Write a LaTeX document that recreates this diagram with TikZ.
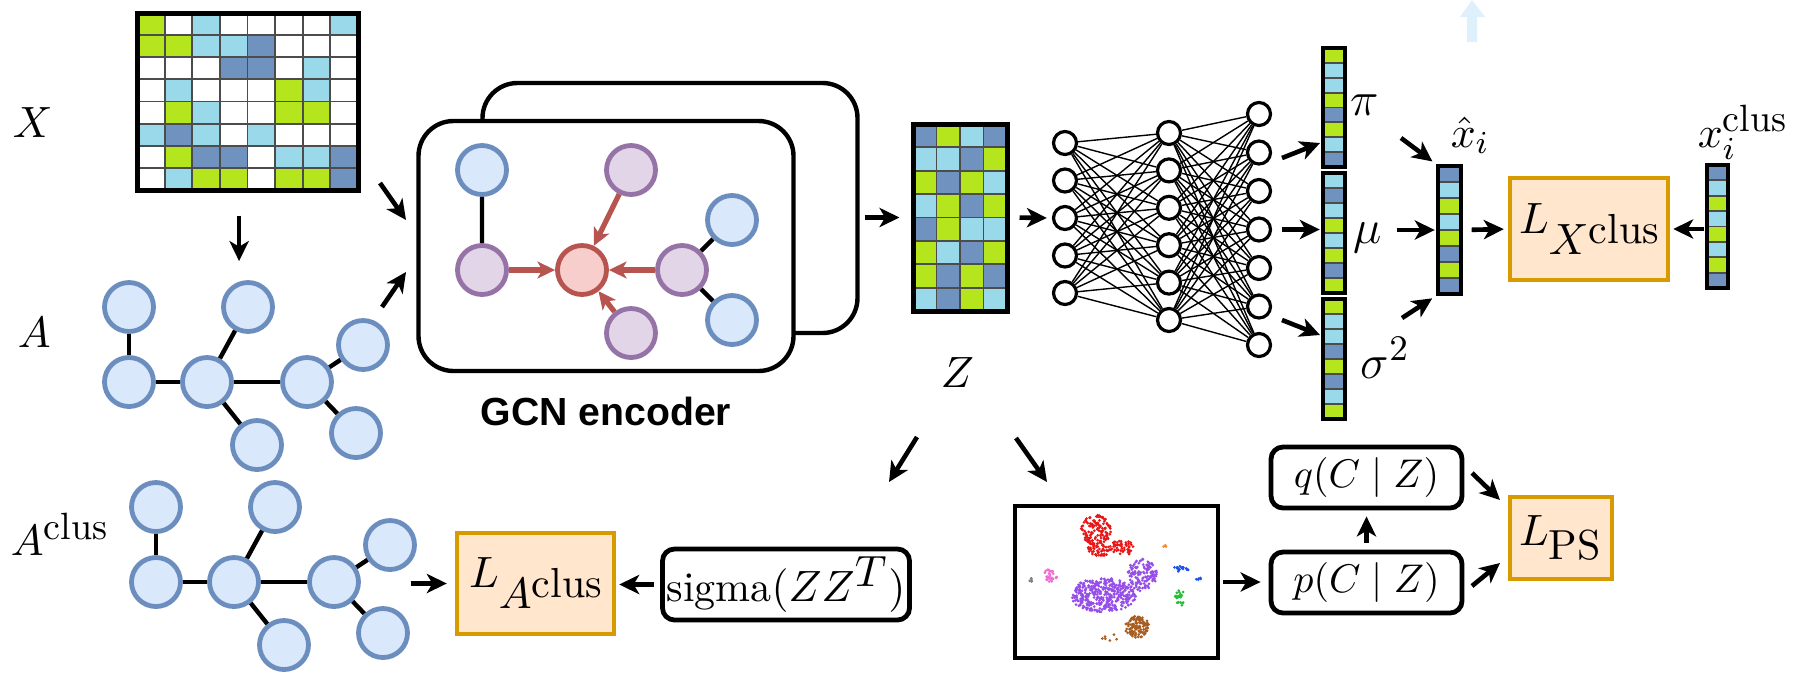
\documentclass[tikz,border=0pt]{standalone}
\usepackage{fontspec}
\newfontfamily\gcnfont{Liberation Sans}
\usetikzlibrary{arrows.meta,positioning,calc}

\definecolor{G}{RGB}{181,230,29}
\definecolor{C}{RGB}{153,217,234}
\definecolor{B}{RGB}{112,146,190}
\colorlet{W}{white}
\definecolor{nodeblue}{HTML}{DAE8FC}
\definecolor{edgeblue}{HTML}{6C8EBF}
\definecolor{nodepurple}{HTML}{E1D5E7}
\definecolor{edgepurple}{HTML}{9673A6}
\definecolor{nodered}{HTML}{F8CECC}
\definecolor{edgered}{HTML}{B85450}
\definecolor{lossfill}{HTML}{FFE6CC}
\definecolor{lossdraw}{HTML}{D79B00}
\definecolor{faint}{RGB}{222,240,252}
\definecolor{tsR}{RGB}{232,22,22}
\definecolor{tsP}{RGB}{150,78,232}
\definecolor{tsB}{RGB}{168,92,30}
\definecolor{tsK}{RGB}{240,110,210}
\definecolor{tsG}{RGB}{40,190,60}
\definecolor{tsU}{RGB}{30,80,235}
\definecolor{tsO}{RGB}{250,140,40}

\newcommand{\drawcells}[5]{%
	\foreach \row [count=\j] in {#5}{%
		\foreach \col [count=\i] in \row{%
			\filldraw[fill=\col,draw=black!70,line width=0.45pt]
				({#1+(\i-1)*#3},{#2+(\j-1)*#4}) rectangle ++(#3,#4);}}}
\newcommand{\lossL}[1]{$L$\raisebox{-5.25pt}{$#1$\raisebox{2.75pt}{clus}}}
\newcommand{\clustxt}{\mbox{\fontsize{9.5}{10}\selectfont clus}}

\tikzset{
	arr/.style={-{Stealth[length=5pt,width=4.8pt,inset=1.4pt]},line width=1.15pt},
	redarr/.style={-{Stealth[length=4.4pt,width=4.2pt,inset=1.2pt]},line width=1.3pt,draw=edgered},
	gnode/.style={circle,draw=edgeblue,fill=nodeblue,line width=1.2pt,minimum size=12.25pt,inner sep=0pt},
	gpurple/.style={gnode,draw=edgepurple,fill=nodepurple},
	gcentre/.style={gnode,draw=edgered,fill=nodered},
	gedge/.style={line width=1.1pt},
	neuron/.style={circle,draw,fill=white,line width=0.8pt,minimum size=5.75pt,inner sep=0pt},
	wire/.style={line width=0.35pt},
	cellframe/.style={draw,line width=1.25pt,inner sep=0pt},
	vec/.style={draw,line width=0.8pt,inner sep=0pt},
	loss/.style={draw=lossdraw,fill=lossfill,line width=1.1pt,inner sep=1pt,font=\fontsize{10.5}{12}\selectfont},
	term/.style={draw,rounded corners=3pt,line width=1.2pt,inner sep=1pt},
	lbl/.style={inner sep=0pt,font=\fontsize{11}{13}\selectfont},
	glbl/.style={inner sep=0pt,font=\fontsize{12.5}{14}\selectfont},
	layer/.style={draw,fill=white,rounded corners=8.75pt,line width=1.1pt,minimum width=93.75pt,minimum height=62.5pt}
}

\begin{document}
\begin{tikzpicture}[x=0.25pt,y=-0.25pt]
	\useasboundingbox (0,0) rectangle (1797,677);
	\fill[faint] (1467,42) -- (1467,17) -- (1460,17) -- (1472,0) -- (1485,17) -- (1477,17) -- (1477,42) -- cycle;

	% X and A
	\drawcells{137}{13}{27.625}{22.125}{{G,W,C,W,W,W,W,C},{G,G,C,C,B,W,W,W},{W,W,W,B,B,W,C,W},{W,C,W,W,W,G,C,W},{W,G,C,W,W,G,G,W},{C,B,C,W,C,W,W,W},{W,G,B,B,W,C,C,B},{W,C,G,G,W,G,G,B}}
	\node[cellframe,minimum width=55.25pt,minimum height=44.25pt] (Xm) at (247.5,101.5) {};
	\node[lbl,anchor=base west] (lX) at (12,137) {$X$};
	\node[lbl,anchor=base west] (lA) at (17,347) {$A$};
	\node[lbl,anchor=base west] (lAc) at (10,555) {$A^{\clustxt}$};

	\foreach \p/\dx/\dy in {a/0/0,c/27/200}{
		\foreach \k/\x/\y in {1/129/307,2/129/382,3/207/382,4/248/307,5/257/445,6/307/382,7/363/345,8/356/433}
			\node[gnode] (\p\k) at ({\x+\dx},{\y+\dy}) {};
		\foreach \u/\v in {1/2,2/3,3/4,3/5,3/6,6/7,6/8}
			\draw[gedge] (\p\u) -- (\p\v);
	}

	% GCN encoder
	\node[layer] (gcnback) at (670,208) {};
	\node[layer] (gcn) at (606,246) {};
	\node[gnode] (gb1) at (482,170) {};
	\node[gpurple] (gp1) at (482,270) {};
	\node[gcentre] (gr) at (582,270) {};
	\node[gpurple] (gp2) at (631,170) {};
	\node[gpurple] (gp3) at (631,333) {};
	\node[gpurple] (gp4) at (682,270) {};
	\node[gnode] (gb2) at (732,220) {};
	\node[gnode] (gb3) at (732,320) {};
	\draw[gedge] (gb1) -- (gp1) (gp4) -- (gb2) (gp4) -- (gb3);
	\foreach \s in {gp1,gp2,gp3,gp4}
		\draw[redarr] (\s) -- (gr);
	\node[font=\gcnfont\fontsize{9.8}{11}\selectfont\bfseries,below=2.5pt of gcn] (gcnlbl) {GCN encoder};

	% Z and decoder
	\drawcells{913}{124}{23.5}{23.375}{{B,G,C,B},{C,C,B,G},{G,B,G,C},{C,G,B,G},{B,G,C,C},{G,C,B,G},{G,B,G,B},{C,B,G,C}}
	\node[cellframe,minimum width=23.5pt,minimum height=46.75pt] (Zm) at (960,217.5) {};
	\node[lbl,anchor=base west] (lZ) at (940,387) {$Z$};

	\foreach \k in {1,...,5} \node[neuron] (i\k) at (1065,{143+37.5*(\k-1)}) {};
	\foreach \k in {1,...,6} \node[neuron] (h\k) at (1169,{133+37.4*(\k-1)}) {};
	\foreach \k in {1,...,7} \node[neuron] (o\k) at (1259,{114+38.5*(\k-1)}) {};
	\foreach \a in {1,...,5} \foreach \b in {1,...,6} \draw[wire] (i\a) -- (h\b);
	\foreach \a in {1,...,6} \foreach \b in {1,...,7} \draw[wire] (h\a) -- (o\b);

	\drawcells{1323}{48}{22}{14.875}{{G},{C},{C},{G},{B},{G},{C},{B}}
	\node[vec,minimum width=5.5pt,minimum height=29.75pt] (vpi) at (1334,107.5) {};
	\drawcells{1323}{173}{22}{15}{{C},{B},{C},{G},{C},{G},{B},{G}}
	\node[vec,minimum width=5.5pt,minimum height=30pt] (vmu) at (1334,233) {};
	\drawcells{1323}{299}{22}{15}{{G},{C},{C},{B},{G},{B},{C},{G}}
	\node[vec,minimum width=5.5pt,minimum height=30pt] (vsig) at (1334,359) {};
	\node[glbl,anchor=base west] (lpi) at (1350,115) {$\pi$};
	\node[glbl,anchor=base west] (lmu) at (1353,243) {$\mu$};
	\node[glbl,anchor=base west] (lsig) at (1360,378) {$\sigma^2$};

	\drawcells{1438}{166}{23}{16}{{B},{C},{G},{C},{G},{B},{G},{B}}
	\node[vec,minimum width=5.75pt,minimum height=32pt] (vxh) at (1449.5,230) {};
	\node[lbl,anchor=base west] (lxh) at (1450,147) {$\hat{x}_i$};
	\drawcells{1707}{165}{21}{15.375}{{B},{C},{G},{C},{G},{C},{G},{B}}
	\node[vec,minimum width=5.25pt,minimum height=30.75pt] (vxc) at (1717.5,226.5) {};
	\node[lbl,anchor=base west] (lxc) at (1697,147) {$x_i^{\clustxt}$};
	\node[loss,minimum width=39.5pt,minimum height=25.5pt] (LX) at (1589,229) {\lossL{X}};

	% bottom row
	\node[loss,minimum width=39.25pt,minimum height=25.25pt] (LA) at (535.5,583.5) {\lossL{A}};
	\node[term,minimum width=61.5pt,minimum height=17.75pt,font=\fontsize{10.5}{12}\selectfont] (sig) at (786,584.5) {$\mathrm{sigma}(ZZ^{\textstyle T})$};
	\node[draw,line width=1.2pt,minimum width=50.75pt,minimum height=38pt] (tsne) at (1116.5,582) {};
	\pgfmathsetseed{12}
	\foreach \cx/\cy/\rx/\ry/\cc/\nd in {1096/530/15/15/tsR/130,1100/548/12/8/tsR/50,1122/548/12/8/tsR/50,1103/595/33/17/tsP/380,1142/575/15/16/tsP/130,1137/627/12/11/tsB/110,1109/638/10/4/tsB/6,1050/576/7/7/tsK/30,1032/580/3/2/gray/5,1180/598/5/8/tsG/25,1181/569/9/3/tsU/18,1198/578/3/2/tsU/5,1165/546/2/1.5/tsO/3}
		\foreach \k in {1,...,\nd}{
			\pgfmathsetmacro\ang{360*rnd}
			\pgfmathsetmacro\rad{sqrt(rnd)}
			\fill[\cc] ({\cx+\rx*\rad*cos(\ang)},{\cy+\ry*\rad*sin(\ang)}) circle (1.5);
		}
	\node[term,minimum width=47.75pt,minimum height=15.25pt,font=\fontsize{10}{12}\selectfont] (qbox) at (1366.5,477.5) {$q(C\mid Z)$};
	\node[term,minimum width=47.75pt,minimum height=15.25pt,font=\fontsize{10}{12}\selectfont] (pbox) at (1366.5,582.5) {$p(C\mid Z)$};
	\node[loss,minimum width=25.5pt,minimum height=20.5pt] (LPS) at (1561,538) {$L_{\textstyle\mathrm{PS}}$};

	% connectors
	\coordinate (xa) at ([xshift=-2.1pt]Xm.south);
	\foreach \n/\x/\y in {xg1/380/183,xg2/406/220,ag1/382/307,ag2/406/272,np1/1282/158,np2/1320/143,ns1/1282/320,ns2/1320/335,px1/1401/138,sx1/1402/318,zs1/917/437,zs2/889/482,zt1/1016/438,zt2/1047/482,ql1/1472/473,ql2/1500/500,pl1/1472/586,pl2/1500/563}
		\coordinate (\n) at (\x,\y);
	\draw[arr,shorten <=5.75pt,shorten >=4.75pt] (xa) -- (xa |- a4.north);
	\foreach \s/\t in {xg1/xg2,ag1/ag2,np1/np2,ns1/ns2,zs1/zs2,zt1/zt2,ql1/ql2,pl1/pl2}
		\draw[arr] (\s) -- (\t);
	\draw[arr,shorten >=1.25pt] (px1) -- (vxh.north west);
	\draw[arr,shorten >=1.25pt] (sx1) -- (vxh.south west);
	\draw[arr,shorten <=1.25pt,shorten >=2.75pt] (gcnback.east |- Zm.west) -- (Zm.west);
	\draw[arr,shorten <=2.5pt,shorten >=1.25pt] (Zm.east) -- (i3.west);
	\draw[arr,shorten <=2.5pt,shorten >=0.4pt] (o4.east) -- (o4.east -| vmu.west);
	\draw[arr,shorten <=12.5pt,shorten >=0.4pt] (vmu.east |- vxh.west) -- (vxh.west);
	\draw[arr,shorten <=2.25pt,shorten >=1pt] (vxh.east) -- (LX.west);
	\draw[arr,shorten <=0.25pt,shorten >=0.75pt] (LX.east -| vxc.west) -- (LX.east);
	\draw[arr,shorten <=1.5pt,shorten >=0.75pt] (sig.west) -- (sig.west -| LA.east);
	\draw[arr,shorten <=12.4pt,shorten >=2pt] (c6.east |- LA.west) -- (LA.west);
	\draw[arr,shorten <=0.75pt,shorten >=2pt] (tsne.east) -- (tsne.east -| pbox.west);
	\draw[arr,shorten <=1.75pt,shorten >=1.5pt] (pbox.north) -- (qbox.south);
\end{tikzpicture}
\end{document}
